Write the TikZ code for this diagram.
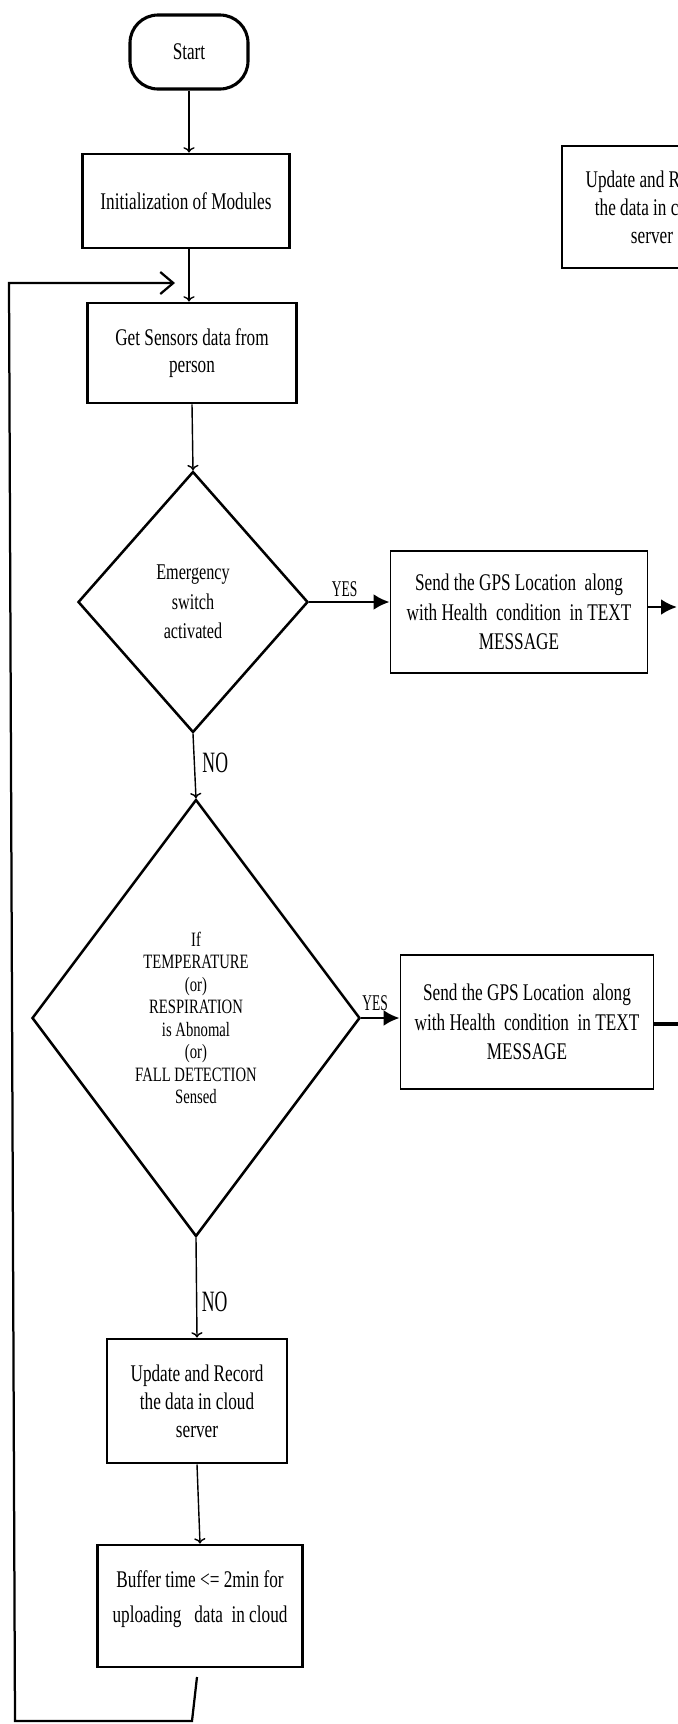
\documentclass[tikz,border=0pt]{standalone}
\usepackage{fontspec}
\setmainfont{Liberation Serif}[FakeStretch=0.72]
\newfontfamily\labelfont{Liberation Serif}[FakeStretch=0.6]
\usetikzlibrary{shapes.geometric,arrows.meta}

\tikzset{
	block/.style={draw, rectangle, line width=2.1pt, align=center, inner sep=2pt,
		font=\fontsize{17}{20}\selectfont},
	msgbox/.style={block, line width=1.4pt, font=\fontsize{17}{21}\selectfont},
	term/.style={block, rounded corners=7mm, line width=2.2pt},
	decide/.style={draw, diamond, line width=1.8pt, align=center, inner sep=0pt},
	flow/.style={->, line width=1pt},
	yesflow/.style={-{Latex[length=4mm,width=4mm]}, line width=1.8pt},
	yeslbl/.style={font=\labelfont\fontsize{16}{16}\selectfont, inner sep=1pt},
	nolbl/.style={font=\labelfont\fontsize{21}{21}\selectfont, inner sep=1pt}
}

\begin{document}
\begin{tikzpicture}[x=0.25mm, y=-0.25mm]
	\useasboundingbox (0,0) rectangle (678,1724);
	\clip (0,0) rectangle (678,1724);
	
	% Main column
	\node[term, minimum width=29.5mm, minimum height=18.5mm] (start) at (189,52) {Start};
	\node[block, minimum width=51.75mm, minimum height=23.5mm] (init) at (186,201) {Initialization of Modules};
	\node[block, minimum width=52.25mm, minimum height=25mm, font=\fontsize{17}{19.5}\selectfont] (sensors) at (192,353) {Get Sensors data from\\person};
	\node[decide, minimum width=57.5mm, minimum height=65.25mm, font=\fontsize{16}{21}\selectfont] (emerg) at (193,602) {Emergency\\switch\\activated};
	\node[decide, minimum width=82mm, minimum height=109.25mm, font=\fontsize{14.5}{16}\selectfont] (abnorm) at (196,1018)
		{If\\TEMPERATURE\\(or)\\RESPIRATION\\is Abnomal\\(or)\\FALL DETECTION\\Sensed};
	\node[block, minimum width=45mm, minimum height=31mm] (update) at (197,1401) {Update and Record\\the data in cloud\\server};
	\node[block, minimum width=51.25mm, minimum height=30.5mm, font=\fontsize{17}{25}\selectfont] (buffer) at (200,1606)
		{Buffer time <= 2min for\\uploading\ \ \ data\ \ in cloud\\[-4mm]\mbox{}};
	
	% Message boxes
	\node[msgbox, minimum width=64.25mm, minimum height=30.5mm] (sendA) at (519,612) {Send the GPS Location\ \ along\\with Health\ \ condition\ \ in TEXT\\MESSAGE};
	\node[msgbox, minimum width=63.25mm, minimum height=33.5mm] (sendB) at (527,1022) {Send the GPS Location\ \ along\\with Health\ \ condition\ \ in TEXT\\MESSAGE};
	
	% Cut-off box at the right edge
	\node[block, minimum width=45mm, minimum height=30.5mm] (updateR) at (652,207) {Update and Record\\the data in cloud\\server};
	
	% Free ends
	\coordinate (outA) at (677,607);
	\coordinate (outB) at (700,1024);
	\coordinate (fbA) at (197,1677);
	\coordinate (fbB) at (192,1721);
	\coordinate (fbC) at (15,1721);
	\coordinate (fbD) at (9,283);
	\coordinate (fbE) at (175,283);
	
	% Connectors
	\draw[flow] (start.south) -- (start.south |- init.north);
	\draw[flow] (init.south -| start) -- (sensors.north -| start);
	\draw[flow] (sensors.south) -- (emerg.north);
	\draw[flow] (emerg.south) -- node[nolbl, right=1.5mm, pos=0.45] {NO} (abnorm.north);
	\draw[flow] (abnorm.south) -- node[nolbl, right=0.8mm, pos=0.64] {NO} (update.north);
	\draw[flow] (update.south) -- (buffer.north);
	
	\draw[yesflow] (emerg.east) -- node[yeslbl, above=0.6mm, pos=0.44] {YES} (emerg.east -| sendA.west);
	\draw[yesflow] (abnorm.east) -- node[yeslbl, above=1.2mm, pos=0.36] {YES} (abnorm.east -| sendB.west);
	
	\draw[yesflow, line width=2pt] (sendA.east |- outA) -- (outA);
	\draw[line width=2.2pt] (sendB.east |- outB) -- (outB);
	
	% Loop back to the sensors
	\draw[line width=1.6pt, -{Straight Barb[length=3.25mm,width=5.5mm]}]
		(fbA) -- (fbB) -- (fbC) -- (fbD) -- (fbE);
	
\end{tikzpicture}
\end{document}
